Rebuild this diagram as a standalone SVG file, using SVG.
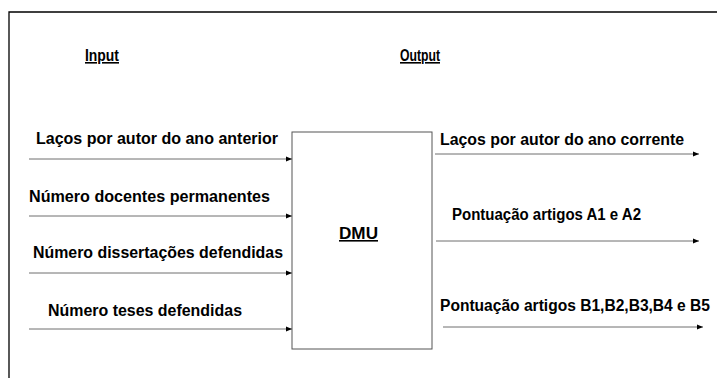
<svg xmlns="http://www.w3.org/2000/svg" width="717" height="378" viewBox="0 0 717 378">
<style>
  .lbl { font-family: "Liberation Sans", Arial, sans-serif; font-weight: bold; font-size: 16px; fill: #000; }
  .title { font-family: "Liberation Sans", Arial, sans-serif; font-weight: bold; font-size: 16px; fill: #000; text-decoration: underline; }
  .conn { stroke: #6e6e6e; stroke-width: 1; fill: none; marker-end: url(#arrow); }
  .frame { stroke: #000; stroke-width: 1.3; fill: none; }
</style>
<defs>
  <marker id="arrow" markerWidth="6" markerHeight="6" refX="6" refY="3" orient="auto" markerUnits="userSpaceOnUse">
    <path d="M0,0.5 L6,3 L0,5.5 Z" fill="#000"/>
  </marker>
</defs>
<rect width="717" height="378" fill="#fff"/>
<path class="frame" d="M9,378 L9,12 L717,12"/>
<text class="title" x="85" y="61" textLength="34" lengthAdjust="spacingAndGlyphs">Input</text>
<text class="title" x="400" y="61" textLength="40" lengthAdjust="spacingAndGlyphs">Output</text>
<g id="dmu">
  <rect x="292" y="132" width="140" height="217" fill="#fff" stroke="#555" stroke-width="1"/>
  <text class="title" x="339" y="239" textLength="39" lengthAdjust="spacingAndGlyphs">DMU</text>
</g>
<g id="in1"><text class="lbl" x="36" y="144" textLength="242" lengthAdjust="spacingAndGlyphs">Laços por autor do ano anterior</text></g>
<g id="in2"><text class="lbl" x="29" y="202" textLength="241" lengthAdjust="spacingAndGlyphs">Número docentes permanentes</text></g>
<g id="in3"><text class="lbl" x="33" y="258" textLength="250" lengthAdjust="spacingAndGlyphs">Número dissertações defendidas</text></g>
<g id="in4"><text class="lbl" x="48" y="316" textLength="194" lengthAdjust="spacingAndGlyphs">Número teses defendidas</text></g>
<g id="out1"><text class="lbl" x="440" y="145" textLength="244" lengthAdjust="spacingAndGlyphs">Laços por autor do ano corrente</text></g>
<g id="out2"><text class="lbl" x="452" y="220" textLength="189" lengthAdjust="spacingAndGlyphs">Pontuação artigos A1 e A2</text></g>
<g id="out3"><text class="lbl" x="440" y="311" textLength="270" lengthAdjust="spacingAndGlyphs">Pontuação artigos B1,B2,B3,B4 e B5</text></g>
<g id="connectors">
  <line class="conn" x1="29" y1="159" x2="292" y2="159"/>
  <line class="conn" x1="29" y1="216" x2="292" y2="216"/>
  <line class="conn" x1="29" y1="273" x2="292" y2="273"/>
  <line class="conn" x1="29" y1="329" x2="292" y2="329"/>
  <line class="conn" x1="435" y1="154" x2="699" y2="154"/>
  <line class="conn" x1="436" y1="241" x2="699" y2="241"/>
  <line class="conn" x1="443" y1="327" x2="703" y2="327"/>
</g>
</svg>
